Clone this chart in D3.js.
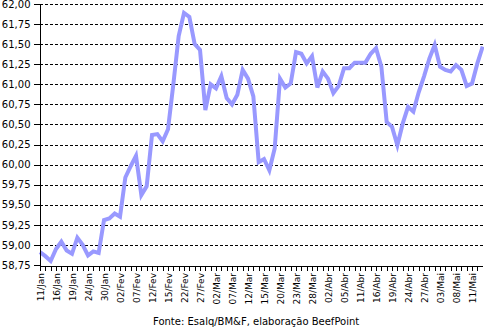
<!DOCTYPE html>
<html>
<head>
<meta charset="utf-8">
<script src="https://cdn.jsdelivr.net/npm/d3@7"></script>
<style>
  html, body { margin: 0; padding: 0; background: #fff; }
  svg { display: block; }
  text { font-family: "DejaVu Sans", Verdana, sans-serif; fill: #000; }
</style>
</head>
<body>
<svg id="chart" width="484" height="329"></svg>
<script>
// Arroba do boi gordo (R$/@), pregão a pregão
const values = [
  58.91, 58.86, 58.80, 58.95, 59.04, 58.93, 58.89, 59.09, 59.00, 58.87,
  58.92, 58.90, 59.31, 59.33, 59.39, 59.35, 59.84, 59.98, 60.11, 59.62,
  59.73, 60.37, 60.38, 60.29, 60.44, 61.00, 61.60, 61.89, 61.84, 61.50,
  61.43, 60.68, 61.00, 60.95, 61.10, 60.83, 60.75, 60.87, 61.18, 61.07,
  60.85, 60.03, 60.07, 59.93, 60.20, 61.07, 60.96, 61.01, 61.40, 61.38,
  61.26, 61.35, 60.96, 61.16, 61.07, 60.89, 60.98, 61.20, 61.20, 61.27,
  61.27, 61.27, 61.38, 61.45, 61.22, 60.53, 60.47, 60.24, 60.51, 60.72,
  60.66, 60.90, 61.10, 61.32, 61.49, 61.22, 61.18, 61.16, 61.24, 61.18,
  60.98, 61.01, 61.26, 61.47
];

// one date label every third trading session
const tickLabels = [
  "11/Jan", "16/Jan", "19/Jan", "24/Jan", "30/Jan", "02/Fev", "07/Fev",
  "12/Fev", "15/Fev", "22/Fev", "27/Fev", "02/Mar", "07/Mar", "12/Mar",
  "15/Mar", "20/Mar", "23/Mar", "28/Mar", "02/Abr", "05/Abr", "11/Abr",
  "16/Abr", "19/Abr", "24/Abr", "27/Abr", "03/Mai", "08/Mai", "11/Mai"
];
const labelEvery = 3;

const yTicks = [58.75, 59.00, 59.25, 59.50, 59.75, 60.00, 60.25, 60.50,
                60.75, 61.00, 61.25, 61.50, 61.75, 62.00];

const sourceNote = "Fonte: Esalq/BM&F, elaboração BeefPoint";

const svg = d3.select("#chart");
const plot = { left: 40, right: 482.7, top: 4, bottom: 265 };

const x = d3.scaleLinear().domain([0, values.length - 1]).range([plot.left, plot.right]);
const y = d3.scaleLinear().domain([58.75, 62]).range([plot.bottom, plot.top]);

const ptBR = d3.formatLocale({ decimal: ",", thousands: ".", grouping: [3], currency: ["R$", ""] });
const fmt = ptBR.format(".2f");

// dashed horizontal grid
svg.append("g")
  .selectAll("line")
  .data(yTicks.filter(v => v > 58.75))
  .join("line")
  .attr("x1", plot.left)
  .attr("x2", plot.right)
  .attr("y1", d => Math.round(y(d)) + 0.5)
  .attr("y2", d => Math.round(y(d)) + 0.5)
  .attr("stroke", "#000")
  .attr("stroke-width", 1)
  .attr("stroke-dasharray", "3,2")
  .attr("shape-rendering", "crispEdges");

// price line
svg.append("path")
  .datum(values)
  .attr("fill", "none")
  .attr("stroke", "#9999ff")
  .attr("stroke-width", 4)
  .attr("stroke-linejoin", "miter")
  .attr("d", d3.line().x((d, i) => x(i)).y(d => y(d)));

// y axis
const yAxis = svg.append("g")
  .attr("transform", `translate(${plot.left - 0.5},0)`)
  .call(d3.axisLeft(y).tickValues(yTicks).tickFormat(fmt).tickSize(6).tickSizeOuter(0));
yAxis.select(".domain").attr("stroke", "#000").attr("shape-rendering", "crispEdges");
yAxis.selectAll(".tick line").attr("stroke", "#000").attr("shape-rendering", "crispEdges");
yAxis.selectAll(".tick text")
  .attr("x", -9)
  .style("font-family", "'DejaVu Sans', Verdana, sans-serif")
  .style("font-size", "10px")
  .attr("fill", "#000");

// x axis: a tick per session, labels rotated
const xAxis = svg.append("g")
  .attr("transform", `translate(0,${plot.bottom + 0.5})`)
  .call(d3.axisBottom(x)
    .tickValues(d3.range(values.length - 1))
    .tickFormat(i => i % labelEvery === 0 ? (tickLabels[i / labelEvery] || "") : "")
    .tickSize(5)
    .tickSizeOuter(0));
xAxis.select(".domain").attr("stroke", "#000").attr("shape-rendering", "crispEdges");
xAxis.selectAll(".tick line").attr("stroke", "#000").attr("shape-rendering", "crispEdges");
xAxis.selectAll(".tick text")
  .attr("transform", "rotate(-90)")
  .attr("text-anchor", "end")
  .attr("x", -7.5)
  .attr("y", 0)
  .attr("dy", "0.35em")
  .style("font-family", "'DejaVu Sans', Verdana, sans-serif")
  .style("font-size", "9px")
  .attr("fill", "#000");

// source note
svg.append("text")
  .attr("x", 153)
  .attr("y", 325)
  .style("font-size", "10px")
  .text(sourceNote);
</script>
</body>
</html>
